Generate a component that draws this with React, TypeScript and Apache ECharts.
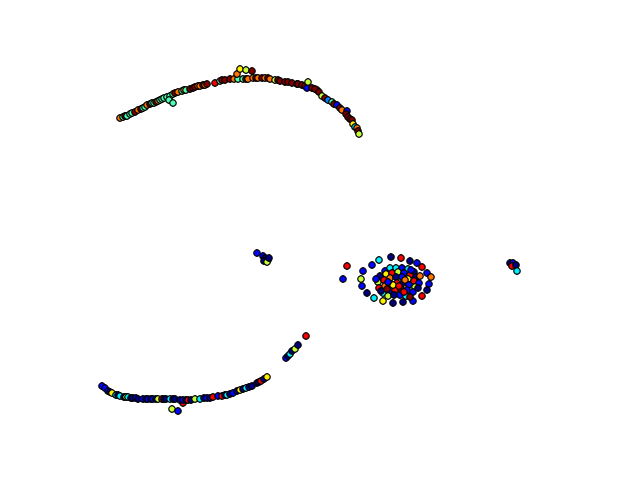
import React, { useEffect, useRef } from "react";
import * as echarts from "echarts";

// colour values on a 0..1 jet scale
const DB = 0.0, B = 0.13, LB = 0.25, C = 0.36, AQ = 0.45, G = 0.57, Y = 0.64, O = 0.76, R = 0.88, DR = 1.0;

const upperLeftArc: number[][] = [
  [120, 118, O], [123, 117, AQ], [125, 116, DR], [127, 116, AQ], [130, 114, AQ], [132, 113, AQ], [135, 112, DR],
  [138, 110, O], [141, 109, DR], [143, 108, AQ], [145, 107, AQ],
  [147, 105, O], [150, 104, DR], [152, 103, AQ], [154, 103, AQ], [156, 102, DR], [158, 101, O], [160, 100, AQ], [162, 99, AQ], [164, 98, AQ],
  [167, 97, AQ], [170, 96, AQ], [173, 94, AQ], [175, 93, DR], [178, 92, O], [182, 91, AQ], [184, 90, O], [186, 90, AQ],
  [190, 89, DR], [193, 88, DR], [195, 87, DR], [198, 86, O], [200, 86, O], [203, 85, DR], [205, 85, O], [207, 84, DR],
  [169, 100, AQ], [173, 103, AQ],
];

const upperTopArc: number[][] = [
  [215, 83, R], [220, 81, AQ], [222, 80, DR], [225, 80, DR], [230, 79, DR], [234, 79, O], [238, 79, AQ],
  [243, 79, AQ], [246, 79, DR], [248, 79, O], [253, 78, O], [256, 78, DR], [258, 78, O], [262, 78, DR], [265, 78, O],
  [268, 78, DR], [270, 79, O], [275, 80, G], [278, 80, DR], [280, 81, DR], [285, 82, DR], [288, 82, DR], [292, 83, DR], [297, 84, DR],
  [237, 74, O], [240, 69, Y], [246, 70, G], [252, 71, DR],
];

const upperRightArc: number[][] = [
  [298, 84, DR], [302, 85, DR], [305, 86, DR], [307, 88, B], [312, 88, DR], [308, 82, G], [317, 90, C],
  [315, 89, DR], [319, 92, DR], [322, 96, G], [325, 98, DR], [328, 100, LB], [332, 102, AQ], [334, 104, DR], [337, 105, B],
  [340, 108, DR], [342, 110, O], [347, 111, B], [346, 114, DR], [348, 117, DR], [350, 119, DR], [352, 120, DR], [353, 124, Y], [355, 127, C],
  [357, 128, O], [358, 131, DR], [359, 134, G],
];

const lowerArc: number[][] = [
  [102, 386, B], [105, 388, B], [108, 391, B], [110, 392, DB], [112, 393, Y], [116, 395, C], [118, 395, DB], [120, 396, C],
  [124, 397, DB], [126, 397, G], [128, 397, C], [131, 398, DB], [133, 398, DB], [136, 398, B], [138, 399, DB], [143, 399, B], [146, 399, DB], [148, 399, B],
  [151, 399, DB], [153, 399, B], [156, 399, DB], [158, 399, G], [162, 399, R], [164, 399, DB], [166, 399, DB], [170, 399, C], [173, 399, DB], [175, 399, DB],
  [183, 403, R], [172, 409, G], [178, 411, B],
  [180, 400, DB], [183, 400, B], [186, 400, DB], [188, 400, R], [191, 400, DB], [195, 399, G], [200, 399, C], [204, 398, DB], [207, 398, B], [210, 398, DB], [213, 397, R],
  [218, 396, B], [222, 396, R], [225, 395, DB], [227, 395, C], [230, 394, DB], [233, 393, B], [237, 391, DB], [240, 390, Y], [243, 389, DB], [246, 388, C],
  [249, 387, DB], [252, 386, DB], [257, 383, DB], [259, 382, DB], [261, 381, R], [264, 379, DB], [267, 377, Y],
];

const lowerSegment: number[][] = [
  [286, 358, B], [288, 356, DB], [290, 354, C], [292, 351, DB], [295, 349, G], [298, 345, DB], [306, 336, R],
];

const leftCluster: number[][] = [
  [257, 253, B], [263, 256, B], [265, 258, DB], [268, 260, B], [264, 261, DB], [267, 262, G], [269, 258, DB],
];

const rightCluster: number[][] = [
  [510, 263, DB], [513, 263, B], [512, 266, R], [516, 265, DB], [517, 271, C],
];

const ring: number[][] = [
  [347, 266, R], [343, 279, B], [363, 271, B], [372, 265, B], [379, 260, C], [391, 257, DB],
  [401, 258, R], [410, 261, DB], [417, 263, B], [422, 267, R], [427, 273, B], [431, 277, O],
  [429, 284, B], [427, 290, DB], [422, 296, R], [413, 301, B], [403, 302, DB], [393, 303, DB],
  [383, 301, Y], [374, 298, C], [367, 293, DB], [362, 286, B], [361, 279, G],
];

const core: number[][] = [
  [385, 271, B], [390, 268, C], [396, 268, C], [402, 268, B], [408, 269, C], [414, 272, DB],
  [380, 276, DB], [386, 274, Y], [392, 273, R], [398, 272, G], [404, 273, B], [410, 275, R],
  [416, 277, DB], [378, 282, G], [384, 280, R], [390, 278, O], [396, 277, DB], [402, 277, B],
  [408, 279, Y], [414, 281, R], [419, 283, B], [379, 288, R], [385, 286, O], [391, 284, DR],
  [397, 283, R], [403, 283, DB], [409, 285, B], [415, 287, G], [383, 293, C], [389, 291, B],
  [395, 290, R], [401, 289, DR], [407, 290, B], [413, 292, B], [388, 296, G], [394, 295, DB],
  [400, 295, B], [406, 296, C], [410, 297, DR], [393, 285, Y], [399, 286, R], [405, 280, O],
  [388, 282, B], [376, 279, B], [420, 276, O], [381, 291, DB], [418, 288, DB], [411, 270, B],
  [387, 289, DR], [404, 292, R],
];

const jet = ["#00007f", "#0000ff", "#007fff", "#00ffff", "#7fff7f", "#ffff00", "#ff7f00", "#ff0000", "#7f0000"];

export default function App() {
  const ref = useRef<HTMLDivElement>(null);
  useEffect(() => {
    if (!ref.current) return;
    const chart = echarts.init(ref.current, undefined, { renderer: "svg" });
    const all = [
      ...upperLeftArc, ...upperTopArc, ...upperRightArc, ...lowerArc, ...lowerSegment,
      ...leftCluster, ...rightCluster, ...ring, ...core,
    ];
    chart.setOption({
      animation: false,
      backgroundColor: "#ffffff",
      grid: { left: 0, right: 0, top: 0, bottom: 0 },
      xAxis: { type: "value", min: 0, max: 640, show: false },
      yAxis: { type: "value", min: 0, max: 480, inverse: true, show: false },
      visualMap: {
        show: false,
        type: "continuous",
        min: 0,
        max: 1,
        dimension: 2,
        inRange: { color: jet },
      },
      series: [
        {
          type: "scatter",
          data: all,
          symbolSize: 6.5,
          itemStyle: { borderColor: "#000000", borderWidth: 1.2, opacity: 1 },
        },
      ],
    });
    return () => chart.dispose();
  }, []);
  return (
    <div
      ref={ref}
      style={{ position: "absolute", left: 0, top: 0, width: 640, height: 480 }}
    />
  );
}
